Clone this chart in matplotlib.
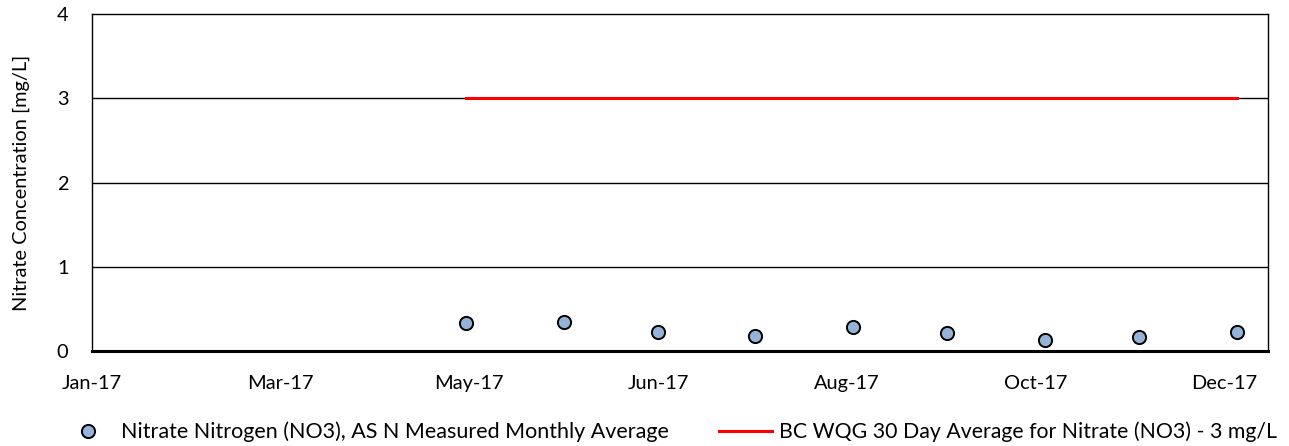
#!/usr/bin/env python3
"""Nitrate concentration chart, monthly averages vs BC WQG guideline."""

import datetime as dt

import matplotlib
matplotlib.use('Agg')
import matplotlib.dates as mdates
import matplotlib.pyplot as plt

# measured monthly averages (month-end dates)
sample_dates = ['2017-04-30', '2017-05-31', '2017-06-30', '2017-07-31', '2017-08-31',
                '2017-09-30', '2017-10-31', '2017-11-30', '2017-12-31']
nitrate_values = [0.33, 0.34, 0.23, 0.18, 0.29, 0.21, 0.13, 0.17, 0.23]

# guideline line
guideline_dates = ['2017-04-30', '2017-12-31']
guideline_values = [3, 3]

x_start = '2017-01-01'
x_end = '2018-01-10'
tick_step_days = 60
y_ticks = [0, 1, 2, 3, 4]

series_label = 'Nitrate Nitrogen (NO3), AS N Measured Monthly Average'
guide_label = 'BC WQG 30 Day Average for Nitrate (NO3) - 3 mg/L'
y_label = 'Nitrate Concentration [mg/L]'

W, H = 1289, 446


def to_dates(values):
    return [dt.datetime.strptime(v, '%Y-%m-%d') for v in values]


def main():
    plt.rcParams['font.family'] = ['Lato', 'DejaVu Sans']
    fig = plt.figure(figsize=(W / 100, H / 100), dpi=100)
    ax = fig.add_axes([92 / W, 1 - 351 / H, (1268 - 92) / W, (351 - 14) / H])

    start = to_dates([x_start])[0]
    end = to_dates([x_end])[0]

    for y in y_ticks[1:-1]:
        ax.axhline(y, color='black', linewidth=1.0, zorder=1)

    pts, = ax.plot(to_dates(sample_dates), nitrate_values, linestyle='none', marker='o',
                   markersize=9.5, markerfacecolor='#95b3d7', markeredgecolor='black',
                   markeredgewidth=1.4, zorder=3, label=series_label)
    line, = ax.plot(to_dates(guideline_dates), guideline_values, color='#ff0000',
                    linewidth=2.2, zorder=2, label=guide_label)

    ax.set_xlim(start, end)
    ax.set_ylim(y_ticks[0], y_ticks[-1])
    ax.set_yticks(y_ticks)
    ticks = [start + dt.timedelta(days=tick_step_days * k) for k in range(7)]
    ax.set_xticks(ticks)
    ax.xaxis.set_major_formatter(mdates.DateFormatter('%b-%y'))
    ax.tick_params(length=0, labelsize=14.4)
    ax.tick_params(axis='x', pad=17.5)
    ax.tick_params(axis='y', pad=17)
    ax.set_ylabel(y_label, fontsize=14.4, labelpad=19)

    for s in ax.spines.values():
        s.set_color('black')
        s.set_linewidth(1.0)
    ax.spines['bottom'].set_linewidth(2.2)

    # two separate legend entries, placed like the original
    ly = 1 - 432 / H
    fig.legend(handles=[pts], loc='center left', bbox_to_anchor=(66 / W, ly),
               frameon=False, fontsize=15.5, handlelength=2.0, handletextpad=0.55,
               borderpad=0, borderaxespad=0)
    fig.legend(handles=[line], loc='center left', bbox_to_anchor=(719 / W, ly),
               frameon=False, fontsize=15.3, handlelength=2.5, handletextpad=0.33,
               borderpad=0, borderaxespad=0)

    fig.savefig('out.png', dpi=100)
    plt.close(fig)


if __name__ == '__main__':
    main()
